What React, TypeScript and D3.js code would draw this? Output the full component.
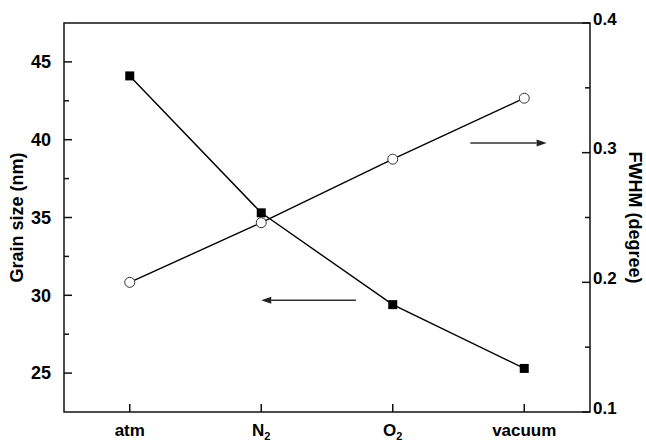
import React from "react";
import * as d3 from "d3";

const categories = ["atm", "N2", "O2", "vacuum"];
const grainSize = [44.1, 35.3, 29.4, 25.3];
const fwhm = [0.2, 0.246, 0.295, 0.342];
const leftTicks = [25, 30, 35, 40, 45];
const leftMinor = [27.5, 32.5, 37.5, 42.5];
const rightTicks = [0.1, 0.2, 0.3, 0.4];
const rightMinor = [0.15, 0.25, 0.35];
// arrows: [x0, x1, y] in data units
const arrowRight = [3.59, 4.17, 0.3075];
const arrowLeft = [2.72, 2.0, 29.68];

const W = 646, H = 444;
const M = { left: 64, right: 590, top: 23, bottom: 412 };
const FONT = "'Liberation Sans', Arial, sans-serif";

export default function App() {
  const x = d3.scaleLinear().domain([0.5, 4.5]).range([M.left, M.right]);
  const yL = d3.scaleLinear().domain([22.5, 47.5]).range([M.bottom, M.top]);
  const yR = d3.scaleLinear().domain([0.1, 0.4]).range([M.bottom, M.top]);

  const lineL = d3.line<number>().x((_, i) => x(i + 1)).y((d) => yL(d));
  const lineR = d3.line<number>().x((_, i) => x(i + 1)).y((d) => yR(d));

  const label = (c: string) => {
    if (c === "N2" || c === "O2") {
      return (
        <>
          {c[0]}
          <tspan fontSize={11} dy={4}>2</tspan>
        </>
      );
    }
    return c;
  };

  const arrow = (x0: number, x1: number, y: number) => {
    const dir = Math.sign(x1 - x0);
    const head = 10;
    return (
      <g>
        <line x1={x0} x2={x1 - dir * head} y1={y} y2={y} stroke="#333" strokeWidth={1.6} />
        <path d={`M${x1},${y} L${x1 - dir * head},${y - 3.5} L${x1 - dir * head},${y + 3.5} Z`} fill="#222" />
      </g>
    );
  };

  const sq = 9;

  return (
    <svg width={W} height={H} style={{ position: "absolute", left: 0, top: 0 }} fontFamily={FONT}>
      <rect width={W} height={H} fill="white" />
      <rect x={M.left} y={M.top} width={M.right - M.left} height={M.bottom - M.top} fill="none" stroke="#111" strokeWidth={1.5} />
      {leftTicks.map((t) => (
        <g key={"l" + t}>
          <line x1={M.left} x2={M.left + 8} y1={yL(t)} y2={yL(t)} stroke="#111" strokeWidth={1.5} />
          <text x={M.left - 13} y={yL(t)} dy="0.35em" textAnchor="end" fontSize={18} fontWeight="bold">{t}</text>
        </g>
      ))}
      {leftMinor.map((t) => (
        <line key={"lm" + t} x1={M.left} x2={M.left + 5} y1={yL(t)} y2={yL(t)} stroke="#111" strokeWidth={1.5} />
      ))}
      {rightTicks.map((t) => (
        <g key={"r" + t}>
          <line x1={M.right - 8} x2={M.right} y1={yR(t)} y2={yR(t)} stroke="#111" strokeWidth={1.5} />
          <text x={M.right + 3} y={yR(t)} dy="0.1em" textAnchor="start" fontSize={17} fontWeight="bold">{t.toFixed(1)}</text>
        </g>
      ))}
      {rightMinor.map((t) => (
        <line key={"rm" + t} x1={M.right - 5} x2={M.right} y1={yR(t)} y2={yR(t)} stroke="#111" strokeWidth={1.5} />
      ))}
      {categories.map((c, i) => (
        <g key={c}>
          <line x1={x(i + 1)} x2={x(i + 1)} y1={M.bottom} y2={M.bottom - 8} stroke="#111" strokeWidth={1.5} />
          <text x={x(i + 1)} y={436} textAnchor="middle" fontSize={17} fontWeight="bold">{label(c)}</text>
        </g>
      ))}
      <text transform={`translate(23,${(M.top + M.bottom) / 2}) rotate(-90)`} textAnchor="middle" fontSize={18} fontWeight="bold">Grain size (nm)</text>
      <text transform={`translate(629,${(M.top + M.bottom) / 2}) rotate(90)`} textAnchor="middle" fontSize={18} fontWeight="bold">FWHM (degree)</text>
      <path d={lineL(grainSize) || ""} fill="none" stroke="#000" strokeWidth={1.4} />
      <path d={lineR(fwhm) || ""} fill="none" stroke="#000" strokeWidth={1.4} />
      {grainSize.map((v, i) => (
        <rect key={"s" + i} x={x(i + 1) - sq / 2} y={yL(v) - sq / 2} width={sq} height={sq} fill="#000" />
      ))}
      {fwhm.map((v, i) => (
        <circle key={"c" + i} cx={x(i + 1)} cy={yR(v)} r={5} fill="white" stroke="#333" strokeWidth={1} />
      ))}
      {arrow(x(arrowRight[0]), x(arrowRight[1]), yR(arrowRight[2]))}
      {arrow(x(arrowLeft[0]), x(arrowLeft[1]), yL(arrowLeft[2]))}
    </svg>
  );
}
